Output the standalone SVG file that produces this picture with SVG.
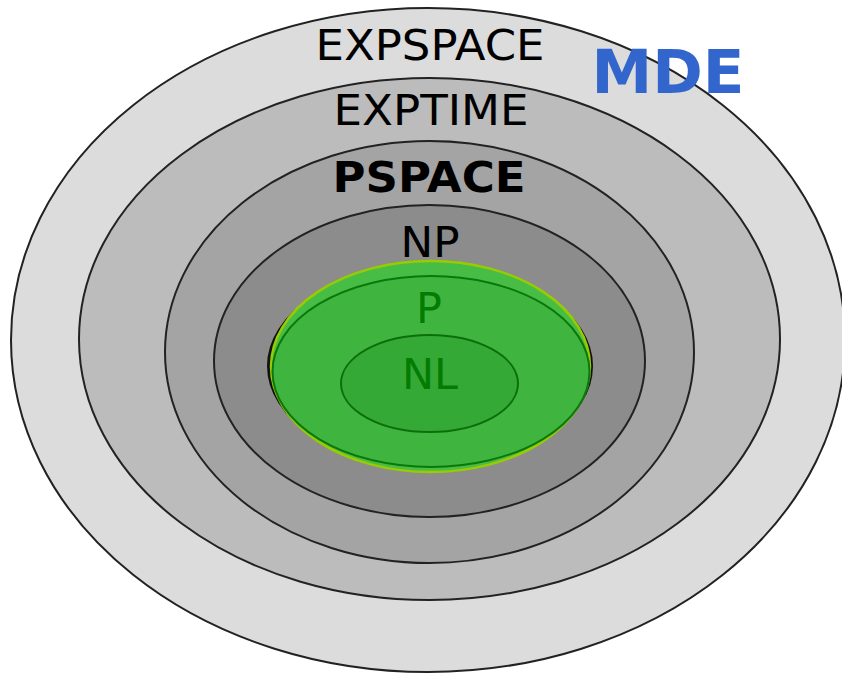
<svg xmlns="http://www.w3.org/2000/svg" width="842" height="674" viewBox="0 0 842 674">
<style>
.ring{stroke:#222;stroke-width:2}
.lbl{font-family:"DejaVu Sans",sans-serif;font-size:43px;text-anchor:middle;fill:#000}
.g{fill:#047c04}
</style>
<rect width="842" height="674" fill="#fff"/>
<g id="expspace"><ellipse class="ring" cx="428" cy="340" rx="417" ry="332" fill="#dcdcdc"/><text class="lbl" x="430" y="60" textLength="229" lengthAdjust="spacingAndGlyphs">EXPSPACE</text></g>
<g id="exptime"><ellipse class="ring" cx="429.5" cy="339" rx="350.5" ry="261" fill="#bcbcbc"/><text class="lbl" x="431" y="125" textLength="195" lengthAdjust="spacingAndGlyphs">EXPTIME</text></g>
<g id="pspace"><ellipse class="ring" cx="429.5" cy="352" rx="264.5" ry="211" fill="#a4a4a4"/><text class="lbl" x="429" y="192" font-weight="bold" textLength="193" lengthAdjust="spacingAndGlyphs">PSPACE</text></g>
<g id="np"><ellipse class="ring" cx="429.5" cy="361" rx="215.5" ry="156" fill="#8c8c8c"/><text class="lbl" x="430" y="257" textLength="59" lengthAdjust="spacingAndGlyphs">NP</text></g>
<g id="p">
<ellipse cx="430" cy="366" rx="162" ry="100" fill="#111" stroke="#111" stroke-width="2"/>
<ellipse cx="430.5" cy="366.5" rx="159.5" ry="105.5" fill="#47bd45" stroke="#99cc00" stroke-width="2.5"/>
<ellipse cx="431" cy="371.5" rx="158.5" ry="95.5" fill="#3fb53f" stroke="#0b780b" stroke-width="2"/>
<text class="lbl g" x="429" y="323">P</text>
</g>
<g id="nl"><ellipse cx="429.5" cy="383.5" rx="88.5" ry="48.5" fill="#35a935" stroke="#0b700b" stroke-width="2"/><text class="lbl g" x="430" y="389" textLength="56" lengthAdjust="spacingAndGlyphs">NL</text></g>
<g id="mde"><text x="668" y="93" font-family="DejaVu Sans,sans-serif" font-size="61" font-weight="bold" fill="#3366cc" text-anchor="middle">MDE</text></g>
<g id="connectors"/>
</svg>
